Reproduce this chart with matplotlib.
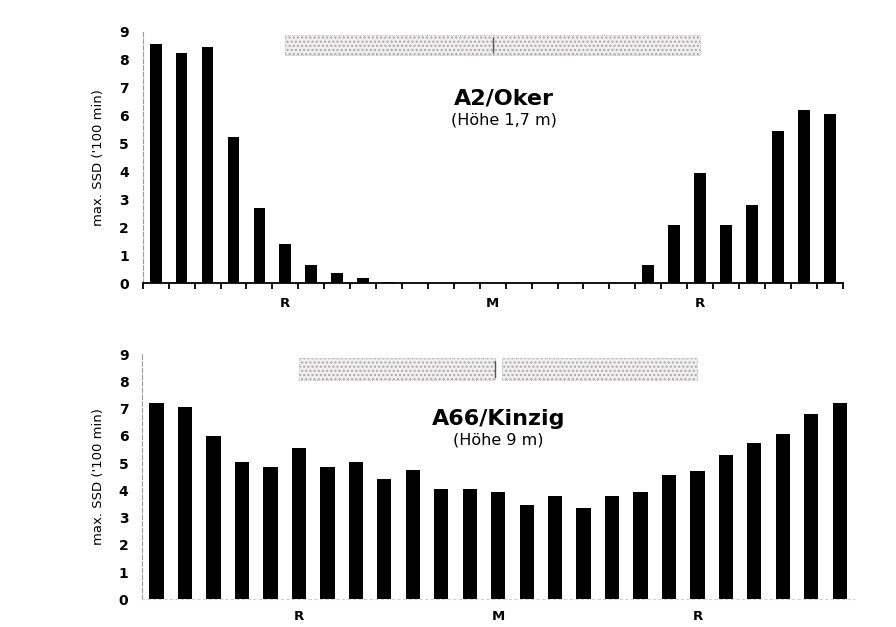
import matplotlib.pyplot as plt
from matplotlib.patches import Rectangle

# max. SSD je Messpunkt (x100 min), von links nach rechts
oker_ssd = [8.55, 8.25, 8.45, 5.25, 2.7, 1.4, 0.65, 0.35, 0.2,
            0.05, 0.02, 0.02, 0.02, 0.02, 0.02, 0.02, 0.02, 0.02, 0.02,
            0.65, 2.1, 3.95, 2.1, 2.8, 5.45, 6.2, 6.05]
kinzig_ssd = [7.2, 7.05, 6.0, 5.05, 4.85, 5.55, 4.85, 5.05, 4.4, 4.75,
              4.05, 4.05, 3.95, 3.45, 3.8, 3.35, 3.8, 3.95, 4.55, 4.7,
              5.3, 5.75, 6.05, 6.8, 7.2]

mark_labels = ["R", "M", "R"]
oker_marks = [5, 13, 21]
kinzig_marks = [5, 12, 19]

oker_title = "A2/Oker"
oker_sub = "(Höhe 1,7 m)"
kinzig_title = "A66/Kinzig"
kinzig_sub = "(Höhe 9 m)"
ylabel = "max. SSD ('100 min)"

fig = plt.figure(figsize=(8.96, 6.27), dpi=100)

def panel(rect, values, marks, title, sub, width, box_y, gap, faint, shift, xpad):
    ax = fig.add_axes(rect)
    n = len(values)
    ax.bar(range(n), values, width=width, color="black")
    ax.set_xlim(-0.5, n - 0.5)
    ax.set_ylim(0, 9)
    ax.spines["top"].set_visible(False)
    ax.spines["right"].set_visible(False)
    ax.spines["left"].set_color("#9a9a9a")
    ax.spines["left"].set_linestyle((0, (4, 2)))
    ax.spines["left"].set_linewidth(0.8)
    if faint:
        ax.spines["bottom"].set_color("#d0d0d0")
        ax.spines["bottom"].set_linestyle((0, (2, 3)))
        ax.tick_params(axis="x", which="minor", length=0)
    else:
        ax.spines["bottom"].set_linewidth(1.3)
        ax.tick_params(axis="x", which="minor", length=4, width=1.3, direction="out")
    ax.set_xticks(marks)
    ax.set_xticklabels(mark_labels, fontweight="bold", fontsize=9.5)
    ax.set_xticks([i - 0.5 for i in range(n + 1)], minor=True)
    ax.tick_params(axis="x", which="major", length=0, pad=xpad)
    ax.set_yticks(range(10))
    ax.set_yticklabels([str(i) for i in range(10)], fontweight="bold", fontsize=10)
    ax.tick_params(axis="y", length=0, pad=10)
    ax.set_ylabel(ylabel, fontsize=9.5, labelpad=10)

    # Streifen oben: Abschnitt R-M und M-R
    y0, y1 = box_y
    left = Rectangle((marks[0], y0), marks[1] - marks[0] - gap, y1 - y0,
                     facecolor="#f0eeee", edgecolor="#a8a8a8", hatch="....",
                     linewidth=0.6, linestyle=":")
    right = Rectangle((marks[1] + gap, y0), marks[2] - marks[1] - gap, y1 - y0,
                      facecolor="#f0eeee", edgecolor="#a8a8a8", hatch="....",
                      linewidth=0.6, linestyle=":")
    ax.add_patch(left)
    ax.add_patch(right)
    ax.plot([marks[1] - gap, marks[1] - gap], [y0 + 0.1, y1 - 0.1], color="#555555", lw=1.0)

    ax.text(marks[1] + shift, 6.6, title, ha="center", va="center",
            fontsize=16, fontweight="bold")
    ax.text(marks[1] + shift, 5.85, sub, ha="center", va="center", fontsize=11.5)
    return ax

panel([0.1593, 0.5482, 0.7812, 0.4012], oker_ssd, oker_marks,
      oker_title, oker_sub, 0.45, (8.17, 8.88), 0.0, False, 0.45, 10)
panel([0.1589, 0.0442, 0.7942, 0.3912], kinzig_ssd, kinzig_marks,
      kinzig_title, kinzig_sub, 0.5, (8.04, 8.85), 0.12, True, 0.0, 8)

fig.savefig("out.png", dpi=100)
